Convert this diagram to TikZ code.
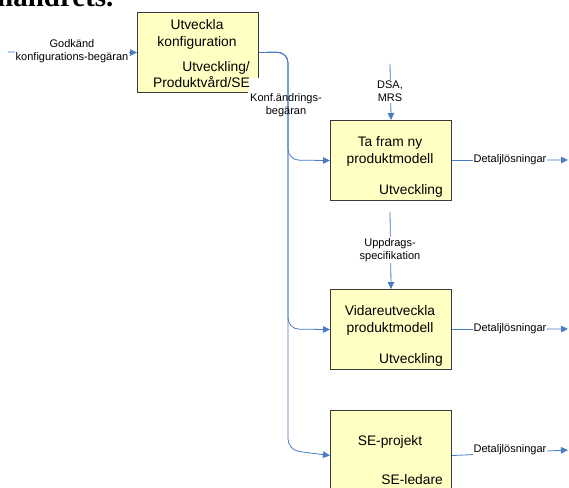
\documentclass[tikz,border=0pt]{standalone}
\usepackage{fontspec}
\setmainfont{Liberation Sans}
\newfontfamily\serifb{Liberation Serif}
\usetikzlibrary{arrows.meta}
\definecolor{boxfill}{HTML}{FFFFC4}
\definecolor{boxline}{HTML}{3A3A3A}
\definecolor{connblue}{HTML}{4A7CC4}
\tikzset{
  procbox/.style={draw=boxline, fill=boxfill, line width=1.1pt, minimum width=121pt, minimum height=80pt, inner sep=0pt, anchor=north west},
  boxtitle/.style={font=\fontsize{13.8}{17}\selectfont, align=center, inner sep=0pt},
  boxrole/.style={font=\fontsize{13.8}{16}\selectfont, align=right, inner sep=0pt, anchor=east},
  conn/.style={draw=connblue, line width=0.8pt, -{Triangle[length=7pt,width=6.5pt]}},
  lbl/.style={font=\fontsize{11}{13}\selectfont, align=center, inner sep=1pt, fill=white},
  lblclear/.style={font=\fontsize{11}{13}\selectfont, align=center, inner sep=1pt}
}
\begin{document}
\begin{tikzpicture}[x=1pt,y=-1pt]
\useasboundingbox (0,0) rectangle (569,487);
\clip (0,0) rectangle (569,487);
\fill[white] (0,0) rectangle (569,487);
% cropped heading text
\node[anchor=base west, inner sep=0pt] (head) at (-3,6.5) {\serifb\bfseries\fontsize{29}{29}\selectfont handrets.};
% boxes
\node[procbox] (b1) at (137,12) {};
\node[procbox] (b2) at (330,120) {};
\node[procbox] (b3) at (330,289) {};
\node[procbox, minimum height=90pt] (b4) at (330,410) {};
% white patch at lower right of box 1
\fill[white] (248,78) rectangle (259.5,93);
% box texts
\node[boxtitle] (t1) at (197,34) {Utveckla\\konfiguration};
\node[boxrole] (r1) at (250,75) {Utveckling/\\Produktvård/SE};
\node[boxtitle] (t2) at (390,151.5) {Ta fram ny\\produktmodell};
\node[boxrole] (r2) at (443,191) {Utveckling};
\node[boxtitle] (t3) at (390,320) {Vidareutveckla\\produktmodell};
\node[boxrole] (r3) at (443,360) {Utveckling};
\node[boxtitle] (t4) at (390,442) {SE-projekt};
\node[boxrole] (r4) at (443,480) {SE-ledare};
% free ends
\coordinate (in1) at (8,52);
\coordinate (dsa) at (390,64);
\coordinate (upp) at (390,212);
\coordinate (o2) at (568,160);
\coordinate (o3) at (568,329);
\coordinate (o4) at (568,450);
% connectors
\draw[conn] (in1) -- (b1.west);
\draw[conn, rounded corners=11pt] (b1.east) -- (288,52) -- (288,160) -- (b2.west);
\draw[conn, rounded corners=11pt] (b1.east) -- (288,52) -- (288,329) -- (b3.west);
\draw[conn, rounded corners=11pt] (b1.east) -- (288,52) -- (288,450) -- (b4.west);
\draw[conn] (dsa) -- (b2.north);
\draw[conn] (upp) -- (b3.north);
\draw[conn] (b2.east) -- (o2);
\draw[conn] (b3.east) -- (o3);
\draw[conn] (b4.east) -- (o4);
% labels
\node[lbl] (l1) at (72,51.5) {Godkänd\\konfigurations-begäran};
\node[lblclear] (l2) at (286,105) {Konf.ändrings-\\begäran};
\node[lbl] (l3) at (390,91.5) {DSA,\\MRS};
\node[lbl] (l4) at (390,250) {Uppdrags-\\specifikation};
\node[lbl, inner sep=0.5pt] (l5) at (510,160) {Detaljlösningar};
\node[lbl, inner sep=0.5pt] (l6) at (510,329) {Detaljlösningar};
\node[lbl, inner sep=0.5pt] (l7) at (510,450) {Detaljlösningar};
\end{tikzpicture}
\end{document}
